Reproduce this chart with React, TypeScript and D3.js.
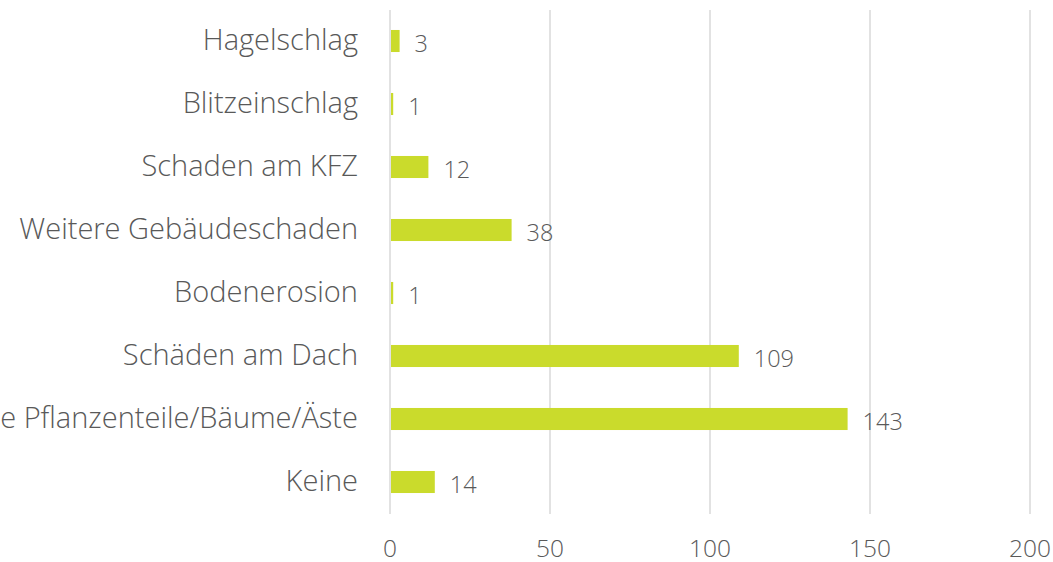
import React from "react";
import * as d3 from "d3";

const categories = [
  "Hagelschlag",
  "Blitzeinschlag",
  "Schaden am KFZ",
  "Weitere Gebäudeschaden",
  "Bodenerosion",
  "Schäden am Dach",
  "Abgebrochene Pflanzenteile/Bäume/Äste",
  "Keine",
];
const values = [3, 1, 12, 38, 1, 109, 143, 14];
const ticks = [0, 50, 100, 150, 200];

const W = 1053;
const H = 562;
const FONT = "'Open Sans', 'Noto Sans', sans-serif";
const TEXT = "#595959";

export default function App() {
  const x = d3.scaleLinear().domain([0, 200]).range([390, 1030]);
  const y = d3
    .scaleBand<string>()
    .domain(categories)
    .range([9.5, 513.5])
    .paddingInner(0.65)
    .paddingOuter(0.325);

  return (
    <svg
      width={W}
      height={H}
      style={{ position: "absolute", left: 0, top: 0, background: "#fff" }}
    >
      {ticks.map((t) => (
        <line
          key={"g" + t}
          x1={x(t)}
          x2={x(t)}
          y1={10}
          y2={514}
          stroke="#d9d9d9"
          strokeWidth={1.5}
        />
      ))}
      {categories.map((c, i) => {
        const yc = (y(c) as number) + y.bandwidth() / 2;
        return (
          <g key={c}>
            <rect
              x={x(0) + 1}
              y={y(c)}
              width={Math.max(0, x(values[i]) - x(0) - 1)}
              height={y.bandwidth()}
              fill="#cadb2c"
            />
            <text
              x={358}
              y={yc}
              dy="0.31em"
              textAnchor="end"
              fontFamily={FONT}
              fontWeight={300}
              fontSize={29}
              fill={TEXT}
            >
              {c}
            </text>
            <text
              x={x(values[i]) + 15}
              y={yc}
              dy="0.48em"
              textAnchor="start"
              fontFamily={FONT}
              fontWeight={300}
              fontSize={23.5}
              fill={TEXT}
            >
              {values[i]}
            </text>
          </g>
        );
      })}
      {ticks.map((t) => (
        <text
          key={"t" + t}
          x={x(t)}
          y={557}
          textAnchor="middle"
          fontFamily={FONT}
          fontWeight={300}
          fontSize={24.5}
          fill={TEXT}
        >
          {t}
        </text>
      ))}
    </svg>
  );
}
